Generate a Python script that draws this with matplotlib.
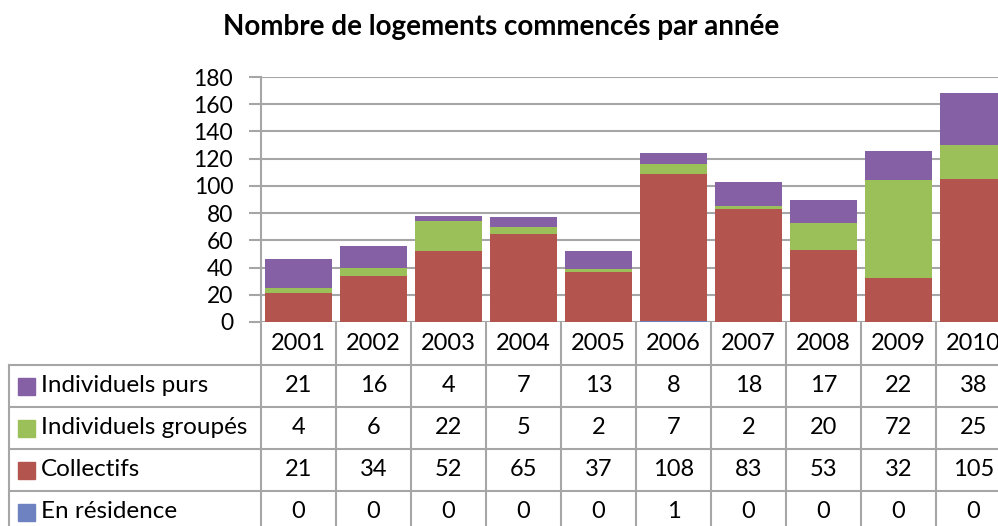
import numpy as np
import matplotlib.pyplot as plt

plt.rcParams['font.family'] = ['Lato', 'DejaVu Sans']

# Données
annees = ['2001', '2002', '2003', '2004', '2005', '2006', '2007', '2008', '2009', '2010']
individuels_purs = [21, 16, 4, 7, 13, 8, 18, 17, 22, 38]
individuels_groupes = [4, 6, 22, 5, 2, 7, 2, 20, 72, 25]
collectifs = [21, 34, 52, 65, 37, 108, 83, 53, 32, 105]
en_residence = [0, 0, 0, 0, 0, 1, 0, 0, 0, 0]

series = ['Individuels purs', 'Individuels groupés', 'Collectifs', 'En résidence']
couleurs = ['#8660A4', '#9BBF59', '#B3544F', '#6E82C2']
valeurs = [individuels_purs, individuels_groupes, collectifs, en_residence]

W, H = 998, 526
fig = plt.figure(figsize=(W / 100, H / 100), dpi=100)

grid_col = '#A6A6A6'

# zone du graphique (elle déborde à droite comme sur l'original)
x0, x1 = 261, 1011
y0, y1 = 322, 77
ax = fig.add_axes([x0 / W, (H - y0) / H, (x1 - x0) / W, (y0 - y1) / H])
x = np.arange(len(annees))
bas = np.zeros(len(annees))
for vals, c in zip(valeurs[::-1], couleurs[::-1]):
    ax.bar(x, vals, width=0.9, bottom=bas, color=c, zorder=3)
    bas += np.array(vals)
ax.set_xlim(-0.5, len(annees) - 0.5)
ax.set_ylim(0, 180)
ax.set_yticks(range(0, 181, 20))
ax.yaxis.grid(True, color=grid_col, lw=1.5, zorder=0)
ax.tick_params(axis='y', length=9, width=1.5, color=grid_col, labelsize=16.5, pad=11)
ax.tick_params(axis='x', bottom=False, labelbottom=False)
for s in ['top', 'right', 'bottom']:
    ax.spines[s].set_visible(False)
ax.spines['left'].set_color(grid_col)
ax.spines['left'].set_linewidth(1.5)

fig.text(501 / W, 1 - 27 / H, 'Nombre de logements commencés par année',
         ha='center', va='center', fontsize=20, fontweight='bold')

# tableau de données sous le graphique (mêmes colonnes que les barres)
tab = fig.add_axes([x0 / W, 0, (x1 - x0) / W, (H - y0) / H])
tab.set_xlim(-0.5, len(annees) - 0.5)
tab.set_ylim(H - y0, 0)
tab.axis('off')
x_gauche = -0.5 - (x0 - 9) / ((x1 - x0) / len(annees))
lignes = [0, 43, 85, 127, 169, 211]

for i in range(len(annees) + 1):
    tab.plot([i - 0.5, i - 0.5], [0, 220], color=grid_col, lw=1.5, clip_on=False)
tab.plot([x_gauche, x_gauche], [lignes[1], 220], color=grid_col, lw=1.5, clip_on=False)
for yl in lignes[1:5]:
    tab.plot([x_gauche, len(annees) - 0.5], [yl, yl], color=grid_col, lw=1.5, clip_on=False)

for i, a in enumerate(annees):
    tab.text(i, (lignes[0] + lignes[1]) / 2, a, ha='center', va='center', fontsize=17)

largeur_col = (x1 - x0) / len(annees)
for r, (nom, c, vals) in enumerate(zip(series, couleurs, valeurs)):
    yc = (lignes[r + 1] + lignes[r + 2]) / 2
    tab.add_patch(plt.Rectangle((x_gauche + 9 / largeur_col, yc - 8.5), 17 / largeur_col, 17,
                                color=c, clip_on=False))
    tab.text(x_gauche + 32 / largeur_col, yc, nom, ha='left', va='center', fontsize=17.5,
             clip_on=False)
    for i, v in enumerate(vals):
        tab.text(i, yc, str(v), ha='center', va='center', fontsize=17)

fig.savefig('out.png', dpi=100)
